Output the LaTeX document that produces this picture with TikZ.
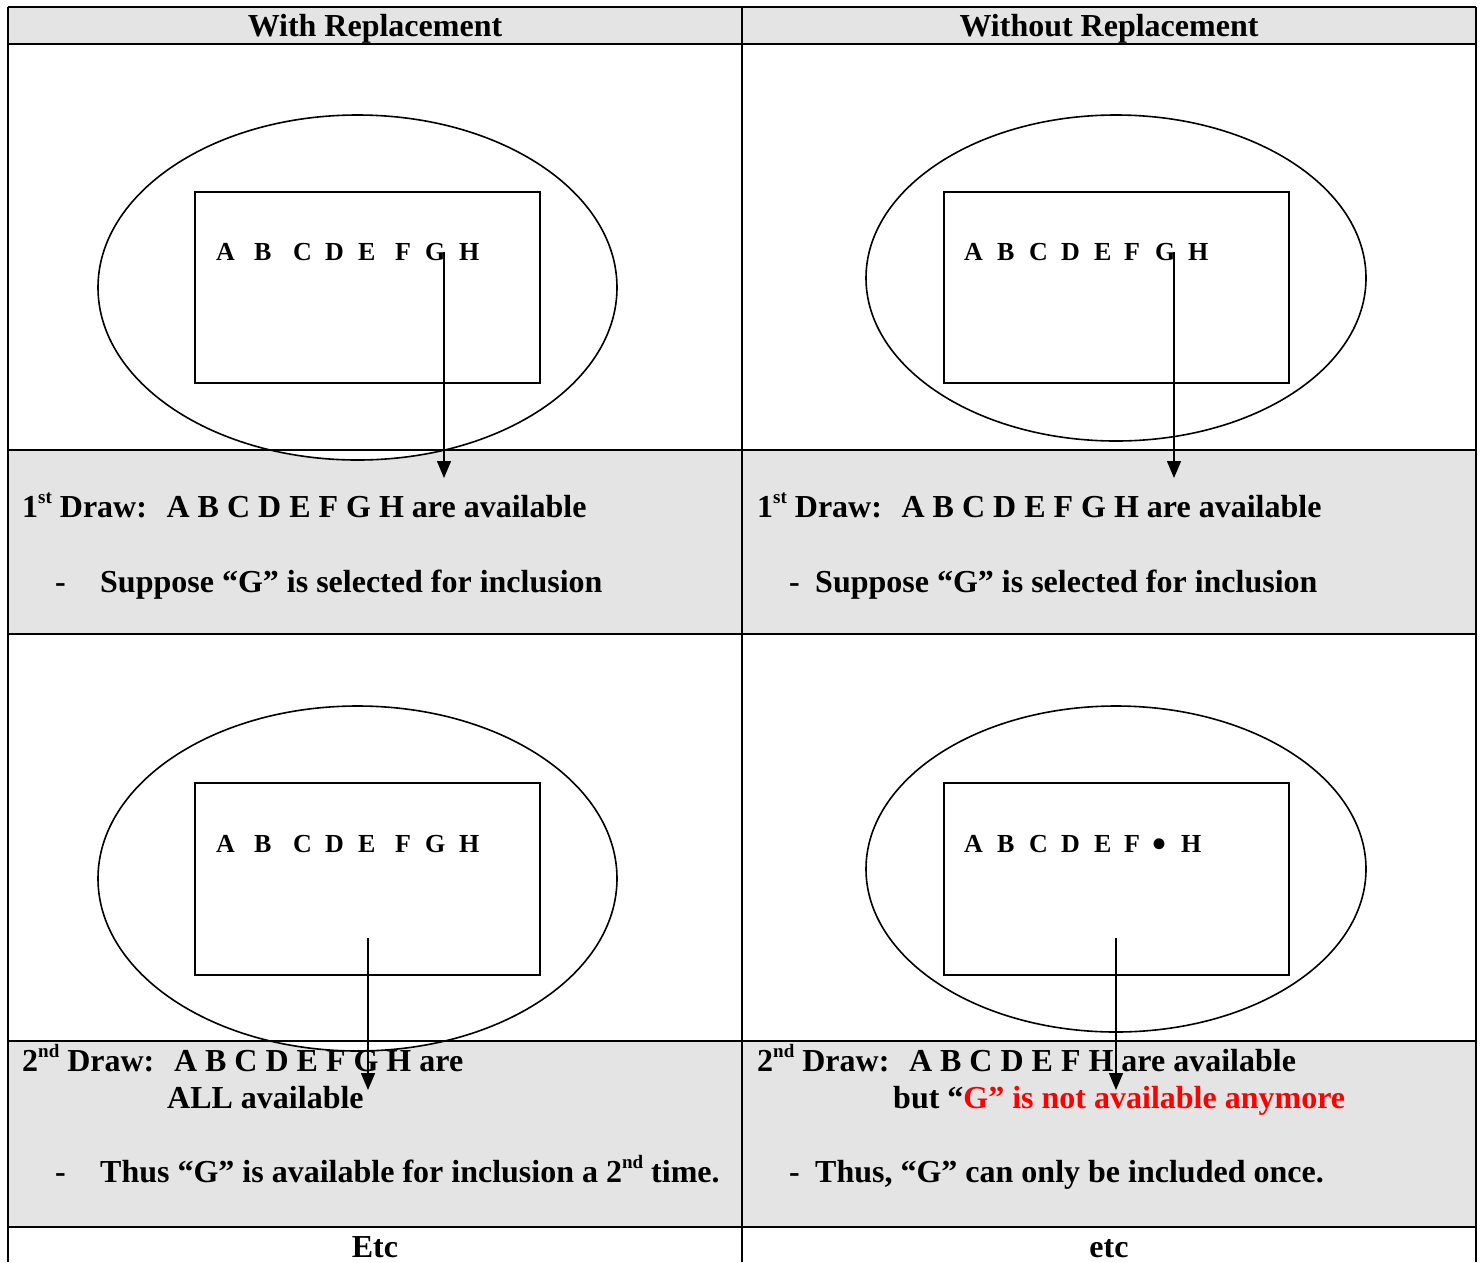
\documentclass[tikz,border=0pt]{standalone}
\usepackage{fontspec}
\setmainfont{Liberation Serif}
\usetikzlibrary{arrows.meta}

\definecolor{cellgray}{HTML}{E4E4E4}
\definecolor{alertred}{HTML}{FF0000}

% raised ordinal suffix (1st, 2nd)
\newcommand\ordsuf[1]{\raisebox{0.42em}{\fontsize{19}{19}\selectfont #1}}
% removed letter marker
\newcommand\gonedot{\raisebox{-5pt}{\fontsize{40}{40}\selectfont\textbullet}}

\tikzset{
  body/.style={anchor=base west, inner sep=0pt, font=\fontsize{32}{38}\selectfont\bfseries},
  head/.style={anchor=base, inner sep=0pt, font=\fontsize{32}{38}\selectfont\bfseries},
  letter/.style={anchor=base west, inner sep=0pt, font=\fontsize{26}{26}\selectfont\bfseries},
  rule/.style={line width=2pt},
  oval/.style={draw, fill=white, line width=1.6pt},
  frame/.style={draw, line width=1.8pt},
  pick/.style={line width=1.5pt, -{Triangle[length=17pt,width=14pt]}},
}

\begin{document}
\begin{tikzpicture}[x=1pt,y=-1pt]
\useasboundingbox (0,0) rectangle (1481,1262);

% shaded rows
\fill[cellgray] (8,7) rectangle (1476,44);
\fill[cellgray] (8,450) rectangle (1476,634);
\fill[cellgray] (8,1041) rectangle (1476,1227);

% urns (ellipses) with the letter boxes
\draw[oval] (357.5,287.5) ellipse [x radius=259.5pt, y radius=172.5pt];
\draw[oval] (1116,278) ellipse [x radius=250pt, y radius=163pt];
\draw[oval] (357.5,878.5) ellipse [x radius=259.5pt, y radius=172.5pt];
\draw[oval] (1116,869) ellipse [x radius=250pt, y radius=163pt];

\draw[frame] (195,192) rectangle (540,383);
\draw[frame] (944,192) rectangle (1289,383);
\draw[frame] (195,783) rectangle (540,975);
\draw[frame] (944,783) rectangle (1289,975);

% table rules
\draw[rule] (8,7) -- (1476,7);
\draw[rule] (8,44) -- (1476,44);
\draw[rule] (8,450) -- (1476,450);
\draw[rule] (8,634) -- (1476,634);
\draw[rule] (8,1041) -- (1476,1041);
\draw[rule] (8,1227) -- (1476,1227);
\draw[rule] (8,7) -- (8,1262);
\draw[rule] (742,7) -- (742,1262);
\draw[rule] (1476,7) -- (1476,1262);

% column headers
\node[head] (hwith) at (375,36) {With Replacement};
\node[head] (hwithout) at (1109,36) {Without Replacement};

% letters in the boxes
\foreach \x/\l [count=\i] in {216/A,254/B,293/C,325/D,358/E,395/F,425/G,459/H} {
  \node[letter] (a\i) at (\x,260) {\l};
  \node[letter] (c\i) at (\x,852) {\l};
}
\foreach \x/\l [count=\i] in {964/A,997/B,1029/C,1061/D,1094/E,1124/F,1155/G,1188/H} {
  \node[letter] (b\i) at (\x,260) {\l};
}
\foreach \x/\l [count=\i] in {964/A,997/B,1029/C,1061/D,1094/E,1124/F,1152/\gonedot,1181/H} {
  \node[letter] (d\i) at (\x,852) {\l};
}

% first draw
\node[body] (l1a) at (22,517) {1\ordsuf{st} Draw:\hspace{0.28em} A B C D E F G H are available};
\node[body] (l1dash) at (55,592) {-};
\node[body] (l1b) at (100,592) {Suppose “G” is selected for inclusion};
\node[body] (r1a) at (757,517) {1\ordsuf{st} Draw:\hspace{0.28em} A B C D E F G H are available};
\node[body] (r1dash) at (789,592) {-};
\node[body] (r1b) at (815,592) {Suppose “G” is selected for inclusion};

% second draw
\node[body] (l2a) at (22,1071) {2\ordsuf{nd} Draw:\hspace{0.28em} A B C D E F G H are};
\node[body] (l2b) at (167,1108) {ALL available};
\node[body] (l2dash) at (55,1182) {-};
\node[body] (l2c) at (100,1182) {Thus “G” is available for inclusion a 2\ordsuf{nd} time.};
\node[body] (r2a) at (757,1071) {2\ordsuf{nd} Draw:\hspace{0.28em} A B C D E F H are available};
\node[body] (r2b) at (893,1108) {but “\textcolor{alertred}{G” is not available anymore}};
\node[body] (r2dash) at (789,1182) {-};
\node[body] (r2c) at (815,1182) {Thus, “G” can only be included once.};

% last row
\node[head] (etcl) at (375,1257) {Etc};
\node[head] (etcr) at (1109,1257) {etc};

% selection arrows
\coordinate (p1s) at (444,252);  \coordinate (p1e) at (444,478);
\coordinate (p2s) at (1174,252); \coordinate (p2e) at (1174,478);
\coordinate (p3s) at (368,938);  \coordinate (p3e) at (368,1090);
\coordinate (p4s) at (1116,938); \coordinate (p4e) at (1116,1090);
\draw[pick] (p1s) -- (p1e);
\draw[pick] (p2s) -- (p2e);
\draw[pick] (p3s) -- (p3e);
\draw[pick] (p4s) -- (p4e);
\end{tikzpicture}
\end{document}
